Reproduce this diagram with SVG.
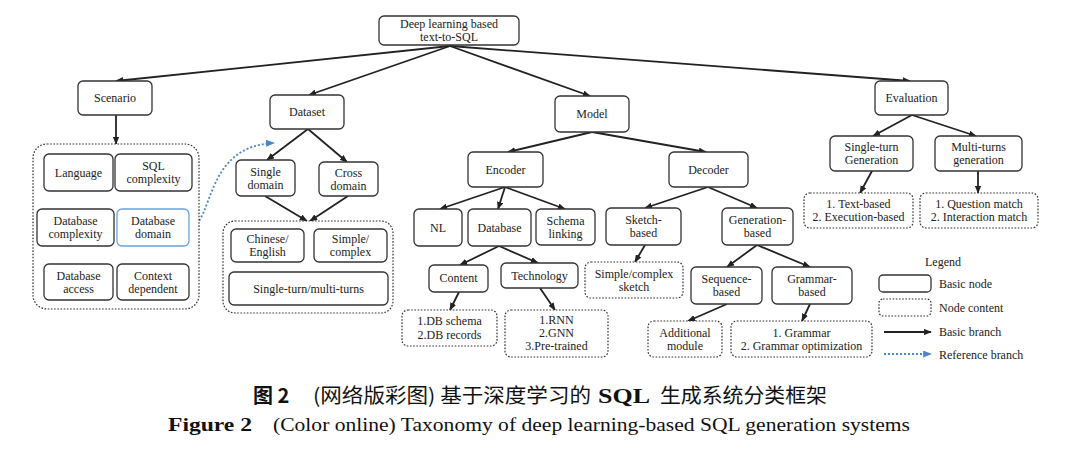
<svg xmlns="http://www.w3.org/2000/svg" width="1080" height="455" viewBox="0 0 1080 455">
<defs>
<style>
.n rect{fill:#fff;stroke:#333;stroke-width:1.3}
.c rect{fill:#fff;stroke:#333;stroke-width:1.2;stroke-dasharray:1.6 1.6}
.b rect{fill:#fff;stroke:#6aa3d8;stroke-width:1.3}
text{font-family:"Liberation Serif","Times New Roman",serif;font-size:12px;fill:#222;text-anchor:middle}
.lg{text-anchor:start}
.e line{stroke:#222;stroke-width:1.8;marker-end:url(#ah)}
.ref{fill:none;stroke:#4a86c8;stroke-width:1.8;stroke-dasharray:2 2;marker-end:url(#ahb)}
.cap{font-size:20px;text-anchor:start;fill:#111}
</style>
<marker id="ah" viewBox="0 0 10 8" refX="9" refY="4" markerWidth="8" markerHeight="6.5" markerUnits="userSpaceOnUse" orient="auto"><path d="M0,0 L10,4 L0,8 Z" fill="#222"/></marker>
<marker id="ahb" viewBox="0 0 10 8" refX="9" refY="4" markerWidth="9" markerHeight="7" markerUnits="userSpaceOnUse" orient="auto"><path d="M0,0 L10,4 L0,8 Z" fill="#4a86c8"/></marker>
</defs>
<rect width="1080" height="455" fill="#fff"/>

<g id="connectors" class="e">
<line x1="450" y1="46" x2="116" y2="81"/>
<line x1="450" y1="46" x2="309" y2="95"/>
<line x1="450" y1="46" x2="590" y2="96"/>
<line x1="450" y1="46" x2="910" y2="81"/>
<line x1="116" y1="115" x2="116" y2="144"/>
<line x1="308" y1="129" x2="267" y2="160"/>
<line x1="308" y1="129" x2="347" y2="162"/>
<line x1="265" y1="196" x2="307" y2="221"/>
<line x1="348" y1="196" x2="310" y2="221"/>
<line x1="592" y1="132" x2="508" y2="152"/>
<line x1="592" y1="132" x2="706" y2="152"/>
<line x1="505" y1="187" x2="440" y2="209"/>
<line x1="505" y1="187" x2="498" y2="209"/>
<line x1="505" y1="187" x2="565" y2="209"/>
<line x1="499" y1="246" x2="460" y2="265"/>
<line x1="499" y1="246" x2="538" y2="263"/>
<line x1="459" y1="292" x2="450" y2="310"/>
<line x1="540" y1="288" x2="555" y2="310"/>
<line x1="708" y1="187" x2="645" y2="208"/>
<line x1="708" y1="187" x2="757" y2="208"/>
<line x1="645" y1="245" x2="635" y2="262"/>
<line x1="757" y1="245" x2="727" y2="267"/>
<line x1="757" y1="245" x2="810" y2="267"/>
<line x1="727" y1="304" x2="688" y2="321"/>
<line x1="810" y1="304" x2="802" y2="321"/>
<line x1="912" y1="115" x2="873" y2="136"/>
<line x1="912" y1="115" x2="976" y2="136"/>
<line x1="872" y1="171" x2="860" y2="193"/>
<line x1="978" y1="171" x2="978" y2="193"/>
<path class="ref" d="M190,228 C214,222 204,146 274,143"/>
</g>

<g id="root" class="n"><rect x="379" y="16" width="140" height="29" rx="5"/><text x="449" y="28">Deep learning based</text><text x="449" y="41">text-to-SQL</text></g>
<g id="scenario" class="n"><rect x="78" y="81" width="74" height="34" rx="5"/><text x="115" y="102">Scenario</text></g>
<g id="dataset" class="n"><rect x="270" y="95" width="74" height="34" rx="5"/><text x="307" y="116">Dataset</text></g>
<g id="model" class="n"><rect x="555" y="96" width="74" height="36" rx="5"/><text x="592" y="118">Model</text></g>
<g id="evaluation" class="n"><rect x="875" y="81" width="73" height="34" rx="5"/><text x="911.5" y="102">Evaluation</text></g>

<g id="scenario-content" class="c"><rect x="33" y="144" width="166" height="165" rx="14"/></g>
<g id="language" class="n"><rect x="44" y="154" width="69" height="37" rx="5"/><text x="78.5" y="176.5">Language</text></g>
<g id="sql-complexity" class="n"><rect x="115" y="154" width="77" height="37" rx="5"/><text x="153.5" y="170">SQL</text><text x="153.5" y="183">complexity</text></g>
<g id="database-complexity" class="n"><rect x="37" y="209" width="77" height="37" rx="5"/><text x="75.5" y="225">Database</text><text x="75.5" y="238">complexity</text></g>
<g id="database-domain" class="b"><rect x="117" y="209" width="72" height="37" rx="5"/><text x="153" y="225">Database</text><text x="153" y="238">domain</text></g>
<g id="database-access" class="n"><rect x="44" y="264" width="69" height="36" rx="5"/><text x="78.5" y="279.5">Database</text><text x="78.5" y="292.5">access</text></g>
<g id="context-dependent" class="n"><rect x="117" y="264" width="72" height="36" rx="5"/><text x="153" y="279.5">Context</text><text x="153" y="292.5">dependent</text></g>

<g id="single-domain" class="n"><rect x="236" y="160" width="59" height="36" rx="5"/><text x="265.5" y="175.5">Single</text><text x="265.5" y="188.5">domain</text></g>
<g id="cross-domain" class="n"><rect x="319" y="162" width="59" height="34" rx="5"/><text x="348.5" y="176.5">Cross</text><text x="348.5" y="189.5">domain</text></g>
<g id="dataset-content" class="c"><rect x="223" y="221" width="170" height="92" rx="12"/></g>
<g id="chinese-english" class="n"><rect x="231" y="229" width="73" height="33" rx="5"/><text x="267.5" y="243">Chinese/</text><text x="267.5" y="256">English</text></g>
<g id="simple-complex" class="n"><rect x="314" y="229" width="73" height="33" rx="5"/><text x="350.5" y="243">Simple/</text><text x="350.5" y="256">complex</text></g>
<g id="single-multi-turns" class="n"><rect x="229" y="272" width="159" height="33" rx="5"/><text x="308.5" y="292.5">Single-turn/multi-turns</text></g>

<g id="encoder" class="n"><rect x="468" y="152" width="75" height="35" rx="5"/><text x="505.5" y="173.5">Encoder</text></g>
<g id="decoder" class="n"><rect x="669" y="152" width="79" height="35" rx="5"/><text x="708.5" y="173.5">Decoder</text></g>
<g id="nl" class="n"><rect x="414" y="209" width="48" height="37" rx="5"/><text x="438" y="231.5">NL</text></g>
<g id="database" class="n"><rect x="468" y="209" width="63" height="37" rx="5"/><text x="499.5" y="231.5">Database</text></g>
<g id="schema-linking" class="n"><rect x="536" y="209" width="59" height="36" rx="5"/><text x="565.5" y="224.5">Schema</text><text x="565.5" y="237.5">linking</text></g>
<g id="content" class="n"><rect x="429" y="265" width="59" height="27" rx="5"/><text x="458.5" y="282">Content</text></g>
<g id="technology" class="n"><rect x="501" y="263" width="77" height="25" rx="5"/><text x="539.5" y="279.5">Technology</text></g>
<g id="content-items" class="c"><rect x="402" y="310" width="95" height="36" rx="6"/><text x="449.5" y="325">1.DB schema</text><text x="449.5" y="339">2.DB records</text></g>
<g id="technology-items" class="c"><rect x="505" y="310" width="103" height="47" rx="6"/><text x="556.5" y="324">1.RNN</text><text x="556.5" y="337">2.GNN</text><text x="556.5" y="350">3.Pre-trained</text></g>

<g id="sketch-based" class="n"><rect x="606" y="208" width="75" height="37" rx="5"/><text x="643.5" y="224">Sketch-</text><text x="643.5" y="237">based</text></g>
<g id="generation-based" class="n"><rect x="722" y="208" width="71" height="37" rx="5"/><text x="757.5" y="224">Generation-</text><text x="757.5" y="237">based</text></g>
<g id="sketch-items" class="c"><rect x="585" y="262" width="98" height="36" rx="6"/><text x="634" y="278">Simple/complex</text><text x="634" y="291">sketch</text></g>
<g id="sequence-based" class="n"><rect x="691" y="267" width="71" height="37" rx="5"/><text x="726.5" y="283">Sequence-</text><text x="726.5" y="296">based</text></g>
<g id="grammar-based" class="n"><rect x="772" y="267" width="80" height="37" rx="5"/><text x="812" y="283">Grammar-</text><text x="812" y="296">based</text></g>
<g id="sequence-items" class="c"><rect x="648" y="321" width="74" height="36" rx="6"/><text x="685" y="336.5">Additional</text><text x="685" y="349.5">module</text></g>
<g id="grammar-items" class="c"><rect x="731" y="321" width="141" height="36" rx="6"/><text x="801.5" y="336.5">1. Grammar</text><text x="801.5" y="349.5">2. Grammar optimization</text></g>

<g id="single-turn-generation" class="n"><rect x="830" y="136" width="83" height="35" rx="5"/><text x="871.5" y="151">Single-turn</text><text x="871.5" y="164">Generation</text></g>
<g id="multi-turns-generation" class="n"><rect x="935" y="136" width="87" height="35" rx="5"/><text x="978.5" y="151">Multi-turns</text><text x="978.5" y="164">generation</text></g>
<g id="single-turn-items" class="c"><rect x="804" y="193" width="109" height="35" rx="6"/><text x="858.5" y="208">1. Text-based</text><text x="858.5" y="221">2. Execution-based</text></g>
<g id="multi-turns-items" class="c"><rect x="920" y="193" width="118" height="35" rx="6"/><text x="979" y="208">1. Question match</text><text x="979" y="221">2. Interaction match</text></g>

<g id="legend">
<text x="943" y="266">Legend</text>
<g class="n"><rect x="879" y="275" width="52" height="17" rx="4"/></g>
<g class="c"><rect x="879" y="299" width="52" height="17" rx="4"/></g>
<g class="e"><line x1="884" y1="332" x2="931" y2="332"/></g>
<line x1="884" y1="354" x2="931" y2="354" class="ref"/>
<text class="lg" x="939" y="288">Basic node</text>
<text class="lg" x="939" y="312">Node content</text>
<text class="lg" x="939" y="336">Basic branch</text>
<text class="lg" x="939" y="359">Reference branch</text>
</g>

<g id="caption">
<text class="cap" x="253" y="403" style="font-family:'Noto Sans CJK SC',sans-serif;font-weight:bold">图 2</text>
<text class="cap" x="313" y="403" textLength="278" lengthAdjust="spacingAndGlyphs" style="font-family:'Noto Sans CJK SC',sans-serif">(网络版彩图) 基于深度学习的</text>
<text class="cap" x="598" y="403" textLength="52" lengthAdjust="spacingAndGlyphs" style="font-family:'Liberation Serif',serif;font-weight:bold">SQL</text>
<text class="cap" x="660" y="403" textLength="167" lengthAdjust="spacingAndGlyphs" style="font-family:'Noto Sans CJK SC',sans-serif">生成系统分类框架</text>
<text class="cap" x="168" y="431" style="font-size:18px;font-weight:bold;font-family:'Liberation Serif',serif" textLength="84" lengthAdjust="spacingAndGlyphs">Figure 2</text>
<text class="cap" x="273" y="431" style="font-size:18px;font-family:'Liberation Serif',serif" textLength="637" lengthAdjust="spacingAndGlyphs">(Color online) Taxonomy of deep learning-based SQL generation systems</text>
</g>
</svg>
